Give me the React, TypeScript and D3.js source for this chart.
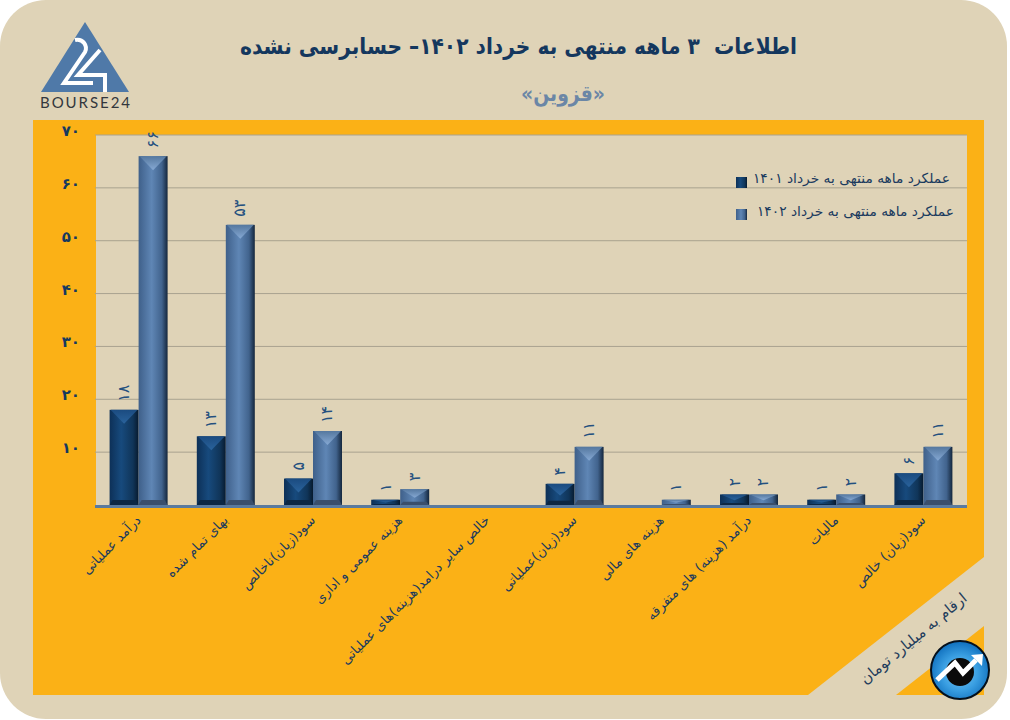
import React from "react";
import * as d3 from "d3";

const categories = [
  "درآمد عملیاتی",
  "بهای تمام شده",
  "سود(زیان)ناخالص",
  "هزینه عمومی و اداری",
  "خالص سایر درامد(هزینه)های عملیاتی",
  "سود(زیان)عملیاتی",
  "هزینه های مالی",
  "درآمد (هزینه) های متفرقه",
  "مالیات",
  "سود(زیان) خالص",
];
const values1401 = [18, 13, 5, 1, null, 4, null, 2, 1, 6];
const values1402 = [66, 53, 14, 3, null, 11, 1, 2, 2, 11];
const yTicks = [10, 20, 30, 40, 50, 60, 70];
const legendLabels = ["عملکرد ماهه منتهی به خرداد ۱۴۰۱", "عملکرد ماهه منتهی به خرداد ۱۴۰۲"];

const FONT = "'DejaVu Sans', sans-serif";
const W = 1010;
const H = 720;
const plot = { left: 95, right: 967, top: 135, bottom: 505 };

const toFa = (n: number) => String(n).replace(/\d/g, (d) => "۰۱۲۳۴۵۶۷۸۹"[+d]);

const x0 = d3.scaleBand<string>().domain(categories).range([plot.left, plot.right]).paddingInner(0.335).paddingOuter(0.1675);
const x1 = d3.scaleBand<string>().domain(["a", "b"]).range([0, x0.bandwidth()]);
const y = d3.scaleLinear().domain([0, 70]).range([plot.bottom, plot.top]);

const Bar = ({ x, val, w, fill, tip, foot }: { x: number; val: number; w: number; fill: string; tip: string; foot: string }) => {
  const top = y(val);
  const h = plot.bottom - top;
  const d = Math.min(h * 0.55, 14);
  const f = Math.min(h * 0.2, 5);
  const xm = x + w / 2;
  const line = d3.line();
  return (
    <g>
      <rect x={x} y={top} width={w} height={h} fill={fill} />
      <path d={line([[x + 1, top], [x + w - 1, top], [xm, top + d]])! + "Z"} fill={tip} />
      <path d={line([[x + 3, plot.bottom - f], [x + w - 3, plot.bottom - f], [x + w, plot.bottom], [x, plot.bottom]])! + "Z"} fill={foot} />
      <text
        transform={`translate(${xm + 5},${top - 8}) rotate(-90)`}
        fontFamily={FONT}
        fontSize={16}
        fill="#24507f"
      >
        {toFa(val)}
      </text>
    </g>
  );
};

const App = () => {
  const w = x1.bandwidth();
  return (
    <svg width={W} height={H} style={{ position: "absolute", left: 0, top: 0, display: "block" }}>
      <defs>
        <linearGradient id="dark" x1="0" x2="1" y1="0" y2="0">
          <stop offset="0" stopColor="#0d3057" />
          <stop offset="0.4" stopColor="#174a7d" />
          <stop offset="0.8" stopColor="#103559" />
          <stop offset="1" stopColor="#071a2e" />
        </linearGradient>
        <linearGradient id="light" x1="0" x2="1" y1="0" y2="0">
          <stop offset="0" stopColor="#3f608a" />
          <stop offset="0.45" stopColor="#5f86b5" />
          <stop offset="0.8" stopColor="#41638d" />
          <stop offset="1" stopColor="#14263c" />
        </linearGradient>
        <linearGradient id="tipDark" x1="0" x2="0" y1="0" y2="1">
          <stop offset="0" stopColor="#1b4b80" />
          <stop offset="1" stopColor="#2a639c" />
        </linearGradient>
        <linearGradient id="tipLight" x1="0" x2="0" y1="0" y2="1">
          <stop offset="0" stopColor="#55789f" />
          <stop offset="1" stopColor="#86a9d4" />
        </linearGradient>
        <radialGradient id="ball" cx="0.5" cy="0.55" r="0.55">
          <stop offset="0" stopColor="#7cc6f2" />
          <stop offset="0.55" stopColor="#3a9fe2" />
          <stop offset="1" stopColor="#0f6fbd" />
        </radialGradient>
      </defs>

      <rect x={0} y={0} width={1007} height={719} rx={46} ry={46} fill="#dfd3b7" />
      <rect x={33} y={120} width={951} height={575} fill="#fbb116" />
      <rect x={plot.left + 1} y={plot.top} width={plot.right - plot.left - 1} height={plot.bottom - plot.top} fill="#dfd3b7" />

      {/* corner band */}
      <path d="M984,557L808,695L984,695Z" fill="#dfd3b7" />
      <path d="M896,695L984,626L984,695Z" fill="#fbb116" />

      {/* logo */}
      <path d="M85,22L129,92L41,92Z" fill="#4f79a8" />
      <path d="M75,40C83,38 88,46 85,52L64,83L93,83" fill="none" stroke="#fff" strokeWidth={4} />
      <path d="M100,50L78,75L105,75L105,92" fill="none" stroke="#fff" strokeWidth={4} />
      <text x={40} y={108} fontFamily="Lato, sans-serif" fontSize={15} fill="#33373d" textLength={90}>BOURSE24</text>

      {/* titles */}
      <text x={797} y={54} direction="rtl" fontFamily={FONT} fontSize={23} fontWeight="bold" fill="#14375e" textLength={557} lengthAdjust="spacingAndGlyphs" style={{ whiteSpace: "pre" }}>
        {"اطلاعات  ۳ ماهه منتهی به خرداد ۱۴۰۲– حسابرسی نشده"}
      </text>
      <text x={605} y={101} direction="rtl" fontFamily={FONT} fontSize={22} fontWeight="bold" fill="#6b86a6" textLength={84} lengthAdjust="spacingAndGlyphs">
        «قزوین»
      </text>

      {/* grid and y axis */}
      {yTicks.map((t) => (
        <g key={t}>
          <line x1={plot.left} x2={plot.right} y1={y(t)} y2={y(t)} stroke="#a9a28f" strokeWidth={1} />
          <text x={80} y={y(t) + 1} textAnchor="end" fontFamily={FONT} fontSize={15} fontWeight="bold" fill="#16395f">
            {toFa(t)}
          </text>
        </g>
      ))}

      {/* bars */}
      {categories.map((c, i) => {
        const a = values1401[i];
        const b = values1402[i];
        const bx = x0(c)!;
        return (
          <g key={c}>
            {a != null && <Bar x={bx + x1("a")!} val={a} w={w} fill="url(#dark)" tip="url(#tipDark)" foot="#0c2744" />}
            {b != null && <Bar x={bx + x1("b")!} val={b} w={w} fill="url(#light)" tip="url(#tipLight)" foot="#3a4f6c" />}
          </g>
        );
      })}
      <rect x={plot.left} y={plot.bottom} width={plot.right - plot.left} height={3} fill="#5a7a9e" />

      {/* x labels */}
      {categories.map((c) => (
        <text
          key={c}
          transform={`translate(${x0(c)! + x0.bandwidth() / 2 + 3},${plot.bottom + 16}) rotate(-45)`}
          direction="rtl"
          fontFamily={FONT}
          fontSize={13.2}
          fill="#1a3a5e"
        >
          {c}
        </text>
      ))}

      {/* legend */}
      {legendLabels.map((l, i) => (
        <g key={l}>
          <rect x={736} y={177 + i * 32} width={11} height={11} fill={i === 0 ? "url(#dark)" : "url(#light)"} />
          <text x={i === 0 ? 950 : 954} y={183 + i * 33} direction="rtl" fontFamily={FONT} fontSize={13.8} fill="#1a3a5e">
            {l}
          </text>
        </g>
      ))}

      {/* unit note */}
      <text transform="translate(968,600) rotate(-39.5)" direction="rtl" fontFamily={FONT} fontSize={14.8} fill="#1f3d5c">
        ارقام به میلیارد تومان
      </text>

      {/* badge */}
      <circle cx={960} cy={670} r={29} fill="url(#ball)" stroke="#05101c" strokeWidth={2} />
      <circle cx={960} cy={672} r={14} fill="#0a0a0a" />
      <path d="M937,680L955,663L963,673L976,660" fill="none" stroke="#fff" strokeWidth={5} />
      <path d="M971,655L983,654L982,666Z" fill="#fff" />
    </svg>
  );
};

export default App;
